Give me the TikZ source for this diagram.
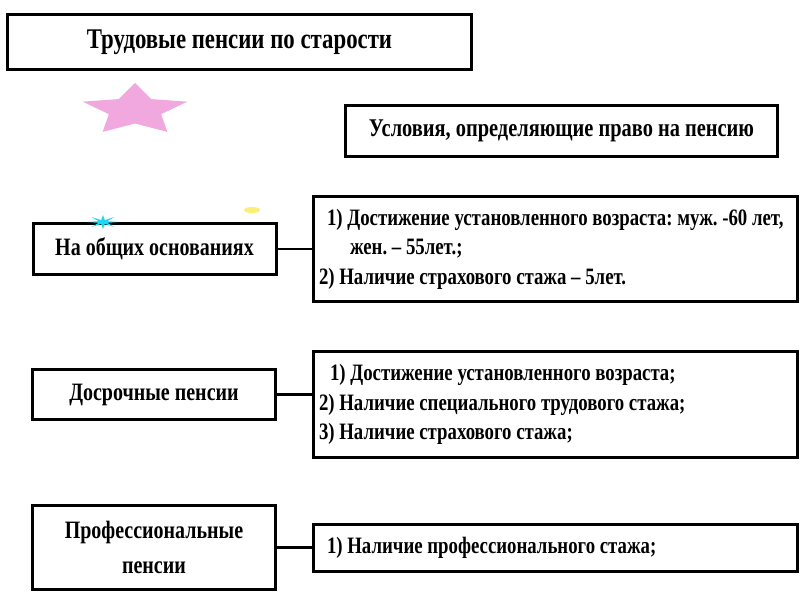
\documentclass[tikz,border=0pt]{standalone}
\usepackage{fontspec}
\setmainfont{Liberation Serif}[FakeStretch=0.8]
\definecolor{starpink}{RGB}{240,168,222}
\definecolor{sparkcyan}{RGB}{30,215,240}
\definecolor{blobyellow}{RGB}{250,240,120}
\tikzset{
  box/.style={draw=black, line width=3pt, fill=white, inner sep=0pt, font=\bfseries},
  headbox/.style={box, font=\fontsize{28.5}{33}\selectfont\bfseries},
  kindbox/.style={box, minimum width=243pt, align=center,
    font=\fontsize{25}{35}\selectfont\bfseries},
  condbox/.style={box, minimum width=484pt, text width=472pt, inner xsep=6pt,
    align=flush left, font=\fontsize{23.5}{29.5}\selectfont\bfseries},
  link/.style={draw=black, line width=2.8pt},
}

\begin{document}
\frenchspacing
\begin{tikzpicture}[x=1pt,y=-1pt]
  \useasboundingbox (0,0) rectangle (800,600);

  % headings
  \node[headbox, minimum width=464pt, minimum height=55pt] (title) at (239.5,42) {Трудовые пенсии по старости};
  \node[headbox, minimum width=432pt, minimum height=51pt, font=\fontsize{25.5}{30}\selectfont\bfseries] (usl) at (561.5,131) {Условия, определяющие право на пенсию};

  % star
  \begin{scope}[shift={(135,110)}, x=55pt, y=27pt]
    \fill[starpink] (90:1) -- (126:0.5) -- (162:1) -- (198:0.5) -- (234:1)
      -- (270:0.5) -- (306:1) -- (342:0.5) -- (18:1) -- (54:0.5) -- cycle;
  \end{scope}

  % kinds of pension
  \node[kindbox, minimum height=51pt] (obsh) at (154.5,249) {На общих основаниях};
  \node[kindbox, minimum height=50pt] (dosr) at (154,394.5) {Досрочные пенсии};
  \node[kindbox, minimum height=84pt] (prof) at (154,547.5) {Профессиональные\\пенсии};

  % conditions
  \node[condbox, minimum height=105pt] (usl1) at (555,249) {\hspace*{8pt}1) Достижение установленного возраста: муж. -60 лет,\\
    \hspace*{31pt}жен. – 55лет.;\\
    2) Наличие страхового стажа – 5лет.};
  \node[condbox, minimum height=106pt] (usl2) at (555,404.5) {\hspace*{11pt}1) Достижение установленного возраста;\\
    2) Наличие специального трудового стажа;\\
    3) Наличие страхового стажа;};
  \node[condbox, minimum height=47pt] (usl3) at (555,548) {\hspace*{8pt}1) Наличие профессионального стажа;};

  \path[link] (obsh.east) -- (obsh.east -| usl1.west);
  \path[link] (dosr.east) -- (dosr.east -| usl2.west);
  \path[link] (prof.east) -- (prof.east -| usl3.west);

  % sparkles
  \begin{scope}[shift={(103,222)}, x=16pt, y=7pt]
    \fill[sparkcyan] (0:1) \foreach \a in {22.5,45,...,337.5} {
      -- (\a:{mod(\a,45)==0 ? 1 : 0.3})} -- cycle;
  \end{scope}
  \fill[blobyellow] (252,210) ellipse (8pt and 3pt);
\end{tikzpicture}
\end{document}
